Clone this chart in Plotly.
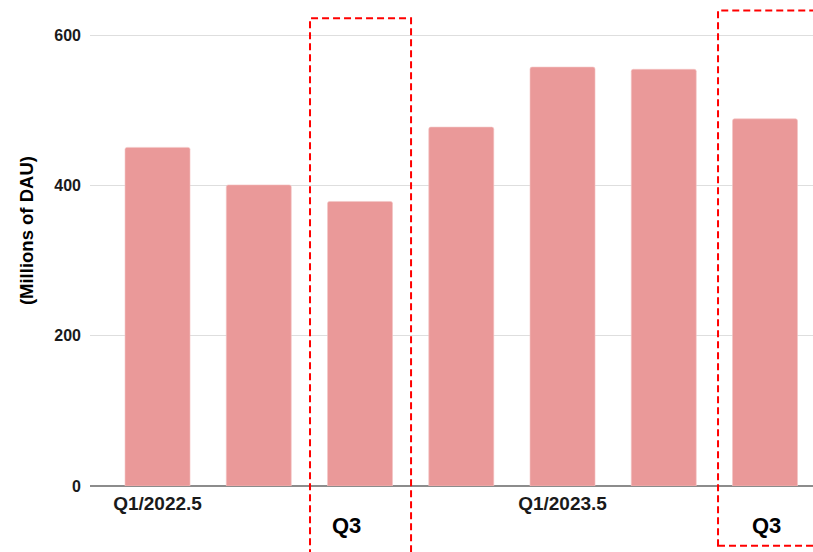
import plotly.graph_objects as go

quarters = ["Q1/2022.5", "Q2/2022.5", "Q3/2022.5", "Q4/2022.5",
            "Q1/2023.5", "Q2/2023.5", "Q3/2023.5"]
dau = [451, 401, 379, 478, 558, 555, 489]
tick_positions = [quarters[0], quarters[4]]
tick_labels = ["Q1/2022.5", "Q1/2023.5"]
y_ticks = [0, 200, 400, 600]
y_title = "(Millions of DAU)"
highlight_label = "Q3"

Y_MAX = 647.3
FONT = "Liberation Sans, Arial, sans-serif"

fig = go.Figure()
fig.add_trace(go.Bar(
    x=quarters, y=dau,
    marker=dict(color="#ea9999", line=dict(color="#f3c4c4", width=0.6), cornerradius=2),
    hoverinfo="x+y",
))

def ypaper(v):
    return v / Y_MAX

# dashed highlight boxes (x in category units, y partly below the plot)
boxes = [
    dict(x0=1.506, x1=2.504, top=623.0, bottom=-0.2, tx=1.87),
    dict(x0=5.536, x1=6.8, top=633.3, bottom=-0.123, tx=6.01),
]
for b in boxes:
    fig.add_shape(type="rect", xref="x", yref="paper",
                  x0=b["x0"], x1=b["x1"], y0=b["bottom"], y1=ypaper(b["top"]),
                  line=dict(color="#ff0000", width=2, dash="7px,4px"),
                  fillcolor="rgba(0,0,0,0)", layer="above")
    fig.add_annotation(x=b["tx"], y=-0.082, xref="x", yref="paper",
                       text=f"<b>{highlight_label}</b>", showarrow=False,
                       font=dict(family=FONT, size=22, color="#000"),
                       xanchor="center", yanchor="middle")

fig.add_annotation(x=-0.088, xref="paper", y=340, yref="y",
                   text=f"<b>{y_title}</b>", textangle=-90, showarrow=False,
                   font=dict(family=FONT, size=18.5, color="#000"),
                   xanchor="center", yanchor="middle")

fig.update_layout(
    width=813, height=552,
    margin=dict(l=90, r=0, t=0, b=66),
    plot_bgcolor="white", paper_bgcolor="white",
    bargap=0.358,
    showlegend=False,
    font=dict(family=FONT),
    xaxis=dict(
        type="category",
        range=[-0.667, 6.474],
        tickvals=tick_positions, ticktext=[f"<b>{t}</b>" for t in tick_labels],
        tickfont=dict(family=FONT, size=19, color="#1a1a1a"),
        showgrid=False, ticks="", showline=False, zeroline=False,
        ticklabelstandoff=4,
    ),
    yaxis=dict(
        range=[0, Y_MAX],
        tickvals=y_ticks, ticktext=[f"<b>{v}</b>" for v in y_ticks],
        tickfont=dict(family=FONT, size=16, color="#1a1a1a"),
        showgrid=True, gridcolor="#dedede", gridwidth=1,
        zeroline=True, zerolinecolor="#8c8c8c", zerolinewidth=1.5,
        ticks="", showline=False,
        ticklabelstandoff=8,
    ),
)

fig.write_html("out.html")
